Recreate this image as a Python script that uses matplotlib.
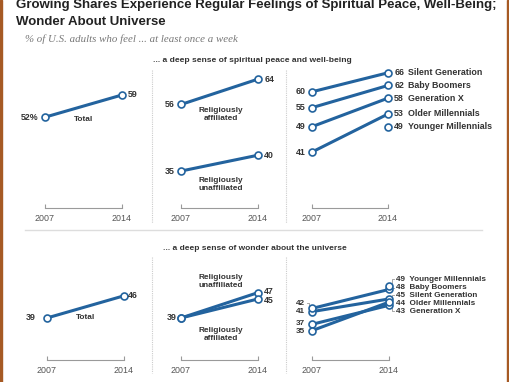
import matplotlib
matplotlib.use('Agg')
import matplotlib.pyplot as plt
from matplotlib import font_manager
from matplotlib.lines import Line2D
from matplotlib.patches import Rectangle

names = {f.name for f in font_manager.fontManager.ttflist}
if 'Liberation Sans Narrow' in names:
    SANS = 'Liberation Sans Narrow'
    SC = 1.0
else:
    SANS = 'Liberation Sans'
    SC = 0.85
SERIF = 'Liberation Serif'

W, H = 510, 382
PPU = 3.17          # pixels per percentage point
BLUE = '#23639e'
TXT = '#333333'
GRAY = '#555555'

years = [2007, 2014]

# ... a deep sense of spiritual peace and well-being
peace_total = [52, 59]
peace_affil = [56, 64]
peace_unaffil = [35, 40]
gen_names = ['Silent Generation', 'Baby Boomers', 'Generation X', 'Older Millennials']
peace_gen_2007 = [60, 55, 49, 41]
peace_gen_2014 = [66, 62, 58, 53]
peace_young_2014 = 49

# ... a deep sense of wonder about the universe
wonder_total = [39, 46]
wonder_affil = [39, 45]
wonder_unaffil = [39, 47]
wonder_gen_2007 = [41, 42, 37, 35]
wonder_gen_2014 = [45, 48, 43, 44]
wonder_young_2014 = 49

fig = plt.figure(figsize=(W / 100, H / 100), dpi=100)
fig.patch.set_facecolor('white')


def px(x, y):
    return x / W, 1 - y / H


def make_ax(x07, x14, spine_y, zero_y, top_y):
    ax = fig.add_axes([x07 / W, (H - spine_y) / H, (x14 - x07) / W, (spine_y - top_y) / H])
    ax.set_xlim(2007, 2014)
    ax.set_ylim((zero_y - spine_y) / PPU, (zero_y - top_y) / PPU)
    ax.patch.set_alpha(0)
    for s in ['top', 'left', 'right']:
        ax.spines[s].set_visible(False)
    ax.spines['bottom'].set_color('#9a9a9a')
    ax.spines['bottom'].set_linewidth(0.8)
    ax.set_xticks(years)
    ax.set_xticklabels([str(y) for y in years], family=SANS, fontsize=7.5 * SC, color=GRAY)
    ax.tick_params(axis='x', direction='in', length=3, width=0.8, color='#9a9a9a', pad=4)
    ax.set_yticks([])
    return ax


def line(ax, vals, xs=years):
    ax.plot(xs, vals, color=BLUE, lw=2.2, marker='o', ms=5, mfc='white',
            mec=BLUE, mew=1.2, clip_on=False, solid_capstyle='butt', zorder=3)


def num(ax, x, y, s, side, dy=0, dx=4.5, size=7.5):
    off = -dx if side == 'left' else dx
    ax.annotate(s, (x, y), xytext=(off, dy), textcoords='offset points',
                ha='right' if side == 'left' else 'left', va='center',
                family=SANS, fontsize=size * SC, fontweight='bold', color=TXT)


def lab(ax, x, y, s):
    ax.text(x, y, s, ha='center', va='center', family=SANS, fontsize=7 * SC,
            fontweight='bold', color=TXT, linespacing=1.15)


TOP_ZERO, TOP_SPINE, TOP_TOP = 282, 208.3, 66
BOT_ZERO, BOT_SPINE, BOT_TOP = 441.6, 360, 252

# ---- top row
a1 = make_ax(45, 122, TOP_SPINE, TOP_ZERO, TOP_TOP)
line(a1, peace_total)
num(a1, 2007, peace_total[0], f'{peace_total[0]}%', 'left')
num(a1, 2014, peace_total[1], f'{peace_total[1]}', 'right')
lab(a1, 2010.5, 51.4, 'Total')

a2 = make_ax(181, 258, TOP_SPINE, TOP_ZERO, TOP_TOP)
line(a2, peace_affil)
line(a2, peace_unaffil)
num(a2, 2007, peace_affil[0], str(peace_affil[0]), 'left')
num(a2, 2014, peace_affil[1], str(peace_affil[1]), 'right')
num(a2, 2007, peace_unaffil[0], str(peace_unaffil[0]), 'left')
num(a2, 2014, peace_unaffil[1], str(peace_unaffil[1]), 'right')
lab(a2, 2010.6, 52.8, 'Religiously\naffiliated')
lab(a2, 2010.6, 30.8, 'Religiously\nunaffiliated')

a3 = make_ax(312, 388, TOP_SPINE, TOP_ZERO, TOP_TOP)
for v07, v14, nm in zip(peace_gen_2007, peace_gen_2014, gen_names):
    line(a3, [v07, v14])
    num(a3, 2007, v07, str(v07), 'left')
    num(a3, 2014, v14, str(v14), 'right')
    a3.annotate(nm, (2014, v14), xytext=(14.5, 0), textcoords='offset points', ha='left',
                va='center', family=SANS, fontsize=7.5 * SC, fontweight='bold', color=TXT)
line(a3, [peace_young_2014], xs=[2014])
num(a3, 2014, peace_young_2014, str(peace_young_2014), 'right')
a3.annotate('Younger Millennials', (2014, peace_young_2014), xytext=(14.5, 0),
            textcoords='offset points', ha='left', va='center', family=SANS,
            fontsize=7.5 * SC, fontweight='bold', color=TXT)

# ---- bottom row
b1 = make_ax(47, 124, BOT_SPINE, BOT_ZERO, BOT_TOP)
line(b1, wonder_total)
num(b1, 2007, wonder_total[0], str(wonder_total[0]), 'left', dx=8.5)
num(b1, 2014, wonder_total[1], str(wonder_total[1]), 'right', dx=2.5)
lab(b1, 2010.5, 39.0, 'Total')

b2 = make_ax(181, 258, BOT_SPINE, BOT_ZERO, BOT_TOP)
line(b2, wonder_unaffil)
line(b2, wonder_affil)
num(b2, 2007, wonder_affil[0], str(wonder_affil[0]), 'left', dx=3)
num(b2, 2014, wonder_unaffil[1], str(wonder_unaffil[1]), 'right', dy=1)
num(b2, 2014, wonder_affil[1], str(wonder_affil[1]), 'right', dy=-1)
lab(b2, 2010.6, 50.6, 'Religiously\nunaffiliated')
lab(b2, 2010.6, 33.8, 'Religiously\naffiliated')

b3 = make_ax(312, 389, BOT_SPINE, BOT_ZERO, BOT_TOP)
for v07, v14 in zip(wonder_gen_2007, wonder_gen_2014):
    line(b3, [v07, v14])
line(b3, [wonder_young_2014], xs=[2014])

# right-side labels with leaders (label slots are layout, not data)
r_vals = [wonder_young_2014] + [wonder_gen_2014[i] for i in (1, 0, 3, 2)]
r_names = ['Younger Millennials', gen_names[1], gen_names[0], gen_names[3], gen_names[2]]
r_slots = [51.2, 48.6, 46.1, 43.6, 41.1]
for v, nm, sl in zip(r_vals, r_names, r_slots):
    b3.annotate(f'{v}  {nm}', (2014, sl), xytext=(5.0, 0), textcoords='offset points',
                ha='left', va='center', family=SANS, fontsize=6.9 * SC,
                fontweight='bold', color=TXT)
    if abs(sl - v) > 0.5:
        b3.plot([2014.25, 2014.25, 2014.45], [v, sl, sl], color='#999999', lw=0.6,
                clip_on=False, zorder=1)

l_vals = [wonder_gen_2007[1], wonder_gen_2007[0], wonder_gen_2007[2], wonder_gen_2007[3]]
l_slots = [43.6, 40.9, 37.2, 34.6]
for v, sl in zip(l_vals, l_slots):
    num(b3, 2007, sl, str(v), 'left', dx=5, size=6.9)
    if abs(sl - v) > 0.5:
        b3.plot([2006.75, 2006.75, 2006.55], [v, sl, sl], color='#999999', lw=0.6,
                clip_on=False, zorder=1)

# ---- titles and furniture
fig.text(*px(16, 8), 'Growing Shares Experience Regular Feelings of Spiritual Peace, Well-Being;',
         family=SANS, fontsize=11.2 * SC, fontweight='bold', color='#222222', va='baseline')
fig.text(*px(16, 25), 'Wonder About Universe',
         family=SANS, fontsize=11.2 * SC, fontweight='bold', color='#222222', va='baseline')
fig.text(*px(25, 42), '% of U.S. adults who feel ... at least once a week',
         family=SERIF, style='italic', fontsize=7.8, color='#777777', va='baseline')
fig.text(*px(153, 61), '... a deep sense of spiritual peace and well-being',
         family=SANS, fontsize=7.2 * SC, fontweight='bold', color=TXT, va='center')
fig.text(*px(163, 248), '... a deep sense of wonder about the universe',
         family=SANS, fontsize=7.1 * SC, fontweight='bold', color=TXT, va='center')

for x in (152, 286):
    fig.add_artist(Line2D([x / W, x / W], [1 - 70 / H, 1 - 223 / H], color='#cccccc',
                          lw=0.8, ls=(0, (1, 1))))
    fig.add_artist(Line2D([x / W, x / W], [1 - 257 / H, 1 - 373 / H], color='#cccccc',
                          lw=0.8, ls=(0, (1, 1))))
fig.add_artist(Line2D([25 / W, 482 / W], [1 - 230 / H, 1 - 230 / H], color='#dddddd', lw=1))

fig.add_artist(Rectangle((0, 0), 2.5 / W, 1, color='#a65a24', transform=fig.transFigure))
fig.add_artist(Rectangle((507.5 / W, 0), 2.5 / W, 1, color='#a65a24', transform=fig.transFigure))

fig.savefig('out.png', dpi=100)
